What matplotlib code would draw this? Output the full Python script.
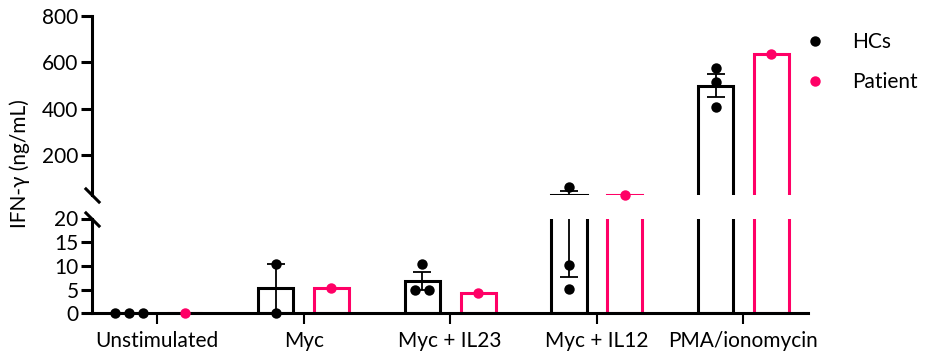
import numpy as np
import matplotlib
matplotlib.use("Agg")
import matplotlib.pyplot as plt
from matplotlib.lines import Line2D

plt.rcParams['font.family'] = ['Lato', 'DejaVu Sans']

# ---- data ----
groups = ["Unstimulated", "Myc", "Myc + IL23", "Myc + IL12", "PMA/ionomycin"]
hc_unstim = [0, 0, 0]
hc_myc = [10.5, 0]
hc_il23 = [10.5, 5.0, 4.9]
hc_il12 = [62.6, 10.2, 5.1]
hc_pma = [574, 516, 406]
hc_values = [hc_unstim, hc_myc, hc_il23, hc_il12, hc_pma]
patient_values = [0, 5.3, 4.2, 26.7, 636]
upper_ticks = [200, 400, 600, 800]
lower_ticks = [0, 5, 10, 15, 20]
series_labels = ["HCs", "Patient"]

# ---- style ----
BLACK = "#000000"
PINK = "#FF0066"
LW = 2.2
OFF = 0.19
BW = 0.24
MS = 7.5
FS = 15

W, H = 928, 364
fig = plt.figure(figsize=(W / 100, H / 100), dpi=100)
left = 92.5 / W
right = 808 / W
ax_up = fig.add_axes([left, 1 - 195.4 / H, right - left, (195.4 - 16) / H])
ax_lo = fig.add_axes([left, 1 - 313.3 / H, right - left, (313.3 - 218.5) / H])

UP_LIM = (25, 800)
LO_LIM = (0, 20)

x = np.arange(len(groups))
hc_mean = np.array([np.mean(v) for v in hc_values])
hc_sem = np.array([np.std(v, ddof=1) / np.sqrt(len(v)) for v in hc_values])


def swarm_offsets(vals, spacing=0.095, tol=1.0):
    vals = np.asarray(vals, float)
    offs = np.zeros(len(vals))
    used = np.zeros(len(vals), bool)
    for i in range(len(vals)):
        if used[i]:
            continue
        idx = [j for j in range(len(vals)) if not used[j] and abs(vals[j] - vals[i]) < tol]
        k = len(idx)
        for n, j in enumerate(idx):
            offs[j] = (n - (k - 1) / 2) * spacing
            used[j] = True
    return offs


for ax, lim in ((ax_up, UP_LIM), (ax_lo, LO_LIM)):
    ax.bar(x - OFF, hc_mean, width=BW, facecolor='none', edgecolor=BLACK,
           linewidth=LW, zorder=2)
    ax.bar(x + OFF, patient_values, width=BW, facecolor='none', edgecolor=PINK,
           linewidth=LW, zorder=2)
    ax.errorbar(x - OFF, hc_mean, yerr=hc_sem, fmt='none', ecolor=BLACK,
                elinewidth=1.3, capsize=6.5, capthick=1.3, zorder=3)
    # dots
    for i, vals in enumerate(hc_values):
        offs = swarm_offsets(vals)
        vals = np.asarray(vals, float)
        m = (vals <= lim[1]) if lim[0] == 0 else vals > 20
        ax.plot((i - OFF + offs)[m], vals[m], 'o', color=BLACK, ms=MS,
                mew=0, clip_on=False, zorder=4)
    pv = np.asarray(patient_values, float)
    m = (pv <= lim[1]) if lim[0] == 0 else pv > 20
    ax.plot((x + OFF)[m], pv[m], 'o', color=PINK, ms=MS, mew=0,
            clip_on=False, zorder=4)
    ax.set_ylim(*lim)
    ax.set_xlim(-0.44, 4.44)
    ax.spines['top'].set_visible(False)
    ax.spines['right'].set_visible(False)
    ax.spines['left'].set_linewidth(LW)
    ax.spines['bottom'].set_linewidth(LW)
    ax.tick_params(axis='y', length=8, width=LW, labelsize=FS, pad=2)
    ax.patch.set_alpha(0)

ax_up.set_yticks(upper_ticks)
ax_up.spines['bottom'].set_visible(False)
ax_up.tick_params(axis='x', bottom=False, labelbottom=False)
ax_lo.set_yticks(lower_ticks)
ax_lo.set_xticks(x)
ax_lo.set_xticklabels(groups)
ax_lo.tick_params(axis='x', length=8, width=1.5, labelsize=FS, pad=5)

# break marks
brk = dict(marker=[(-1, 1), (1, -1)], markersize=11, linestyle='none',
           color=BLACK, mec=BLACK, mew=2.2, clip_on=False)
ax_up.plot([0], [0], transform=ax_up.transAxes, **brk)
ax_lo.plot([0], [1], transform=ax_lo.transAxes, **brk)

fig.text(20 / W, 1 - 164 / H, "IFN-γ (ng/mL)", rotation=90, ha='center',
         va='center', fontsize=FS)

handles = [Line2D([], [], marker='o', ls='none', color=BLACK, ms=MS, mew=0),
           Line2D([], [], marker='o', ls='none', color=PINK, ms=MS, mew=0)]
fig.legend(handles, series_labels, loc='upper left',
           bbox_to_anchor=(805 / W, 1 - 32 / H), frameon=False, fontsize=15,
           handlelength=1.0, handletextpad=1.25, labelspacing=0.95,
           borderpad=0, borderaxespad=0)

fig.savefig("out.png", dpi=100)
